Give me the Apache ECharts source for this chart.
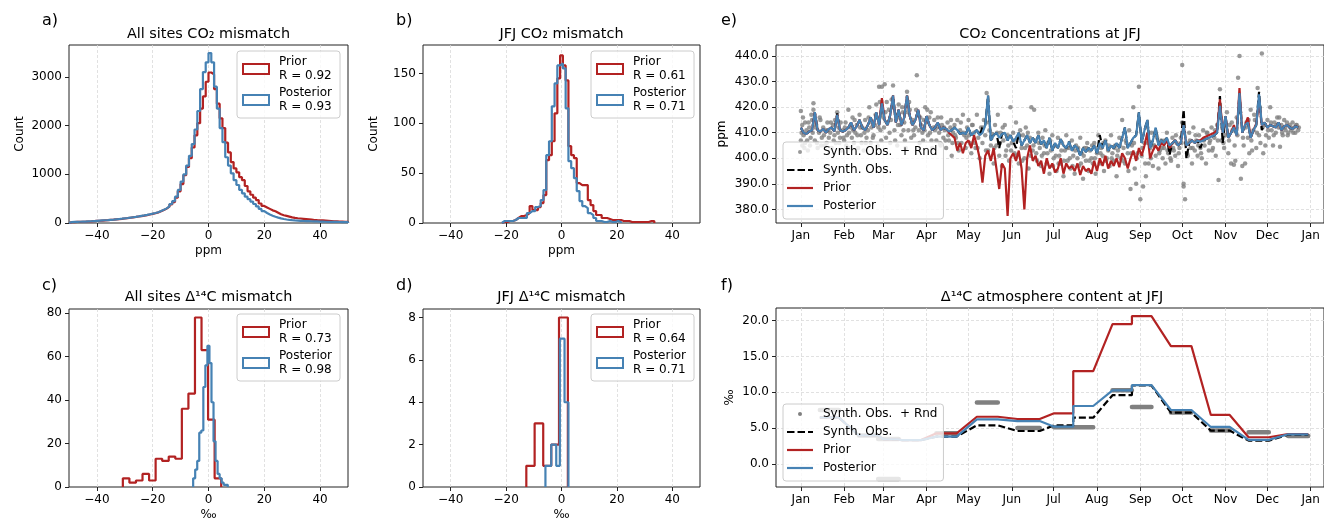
<!DOCTYPE html>
<html><head><meta charset="utf-8">
<script src="https://cdn.jsdelivr.net/npm/echarts@6/dist/echarts.min.js"></script>
<style>html,body{margin:0;padding:0;background:#fff}#c{width:1324px;height:521px}</style>
</head><body><div id="c"></div><script>
// ---------------- DATA ----------------
// Panel a: All sites CO2 mismatch, 1-ppm bins from -50 to 50
const aBinStart = -50, aBinWidth = 1;
const aPrior = [18,20,22,24,26,28,31,34,38,42, 46,50,54,58,63,68,74,80,86,93,
  100,108,116,124,133,142,152,163,175,188, 200,218,240,265,295,335,380,430,520,650,
  800,980,1150,1330,1550,1800,2050,2350,2600,2900, 3090,3050,2750,2450,2150,1950,1650,1450,1250,1120,
  1040,940,880,760,650,580,520,470,400,350, 320,290,260,240,210,180,160,145,130,115,
  105,98,92,86,80,74,68,62,58,55, 52,48,44,40,36,33,30,27,24,22];
const aPosterior = [20,22,24,26,28,30,33,36,40,44, 48,52,56,60,65,70,76,82,88,95,
  102,110,118,126,135,145,155,167,180,192, 205,222,245,270,300,340,390,450,540,680,
  850,1000,1180,1380,1620,1920,2300,2750,3100,3300, 3490,3300,2800,2350,1950,1660,1350,1180,1020,880,
  780,680,610,540,490,440,390,340,290,245, 205,175,150,128,110,95,82,72,64,58,
  53,49,45,42,40,38,36,34,32,30, 28,26,25,24,23,22,21,20,19,18];
// Panel b: JFJ CO2 mismatch, 1-ppm bins centred on integers from -21
const bBinStart = -21.5, bBinWidth = 1;
const bPrior = [1,1,2,2,3,5,7,7,8,10, 17,13,13,16,20,28,63,68,82,110,
  145,168,158,143,77,68,65,40,38,38, 38,23,18,12,8,8,5,5,4,3, 3,3,3,2,2,2,1,1,1,1, 1,1,1,2,2];
const bPosterior = [2,2,2,2,3,5,5,5,5,10, 12,12,16,17,23,33,68,82,117,140,
  158,160,155,115,62,55,45,32,22,17, 15,10,8,5,2,2,1,1,2,1, 1,2,1];
// Panel c: All sites D14C mismatch
const cPriorEdges = [-30.7,-28.35,-26.0,-23.65,-21.3,-18.95,-16.6,-14.25,-11.9,-9.55,-7.2,-4.85,-2.5,-0.15,2.2,4.55];
const cPrior = [4,2,3,6,3,13,12,14,13,36,43,78,63,31,4];
const cPostEdges = [-5.5,-4.77,-4.04,-3.31,-2.58,-1.85,-1.12,-0.39,0.34,1.07,1.8,2.53,3.26,3.99,4.72,5.45,6.18,6.91];
const cPosterior = [4,8,12,25,26,46,56,65,57,39,21,12,6,4,2,1,1];
// Panel d: JFJ D14C mismatch
const dPriorEdges = [-12.7,-9.7,-6.6,-3.7,-0.9,2.3];
const dPrior = [1,3,1,2,8];
const dPostEdges = [-5.8,-3.7,-1.9,-0.6,1.1,2.5];
const dPosterior = [1,2,1,7,4];
const histLabels = {
  aPrior:'Prior\nR = 0.92', aPost:'Posterior\nR = 0.93',
  bPrior:'Prior\nR = 0.61', bPost:'Posterior\nR = 0.71',
  cPrior:'Prior\nR = 0.73', cPost:'Posterior\nR = 0.98',
  dPrior:'Prior\nR = 0.64', dPost:'Posterior\nR = 0.71'
};
// Month ticks (day of year)
const monthNames = ['Jan','Feb','Mar','Apr','May','Jun','Jul','Aug','Sep','Oct','Nov','Dec','Jan'];
const monthStartDays = [0,31,59,90,120,151,181,212,243,273,304,334,365];
// Panel e: CO2 at JFJ, every 2nd day from Jan 1
const eDayStep = 2;
const ePosterior = [
 412,410,409.5,410.5,411,418,411,410.5,411.5,410,411.5,412,410.5,417,411,410.5,
 411,412,414,411,412.5,415,412,411,413,416,412,418,413,421.5,
 415,413,417,424.5,414,419,413,416,424.5,416.5,413,415,419,412,411,
 416.5,413,411,412,414,411,412,411.5,410.5,411,412,411,409.5,410,409.5,
 412,409,410,411,409,410,413,424.5,407,409,410,408,409.5,410,407,409,
 406.5,408,410,405,407,409,406,408,406,409,405.5,407,404,408,403,
 406,404,407.5,405,404,406.5,403,405,404,401,404,402.5,404,403,405,
 402,406,404,407,403,405,404,406,404,408,412,404,406,408,409,418,
 406,411,415,404,407,412,405,407,406,408,405,406,407,405,406,
 413,405,406,407,406,407,406.5,407,407.5,408,408.5,409,410,420.5,410,
 416.5,408,410,412,409,425.5,410,413,414,408,411,413,425,413,414,
 412,413,412.5,412,414,411,412.5,413,412,411.5,412.5,412];
const ePrior = [
 412,410,409.5,410.5,411,418,411,410.5,411.5,410,411.5,412,410.5,417,411,410.5,
 411,412,414,411,412.5,415,412,411,413,416,412,418,413,423.5,
 415,413,417,424.5,414,419,413,416,424.5,416.5,413,415,419,412,411,
 416.5,413,411,412,414,411,412,411.5,410,409,408,403,406,402,406,
 407,404,409,405,400,390.5,401,403,399,404,396,388,398,396,377.5,400,
 402,399,403,396,380,400,405,399,401,397,399,394,400,396,398,
 394.5,396,400,394,398,396,397,395,398,393.5,397,395,396,394,399,
 395,400,397,401,396,399,397,400,396.5,402,400,396,400,403,399,404,
 401,405,410,400,403,405,403,406,405,407,404,406,407,405,406,
 413,405,406,407,406,407,407,408,408.5,409,409.5,410,411,423,410,
 416.5,408,410,413,409,427.5,410,413,416,408,411,413.5,423,413,414,
 412,413,412.5,412,414,411,412.5,413,412,411.5,412.5,412];
const eSynthObs = [
 412,410,409.5,410.5,411,418,411,410.5,411.5,410,411.5,412,410.5,417.5,411,410.5,
 411,412,414,411,412.5,415,412,411,413,416,412,418,413,421.5,
 415,413,417,424.5,414,419,413,416,424.5,416.5,413,415,419,412,411,
 416.5,413,411,412,414,411,412,411.5,410.5,411,412,411,409.5,410,409.5,
 412,409,410,411,409,412,413,424.5,407,409,410,404,409.5,410,407,409,
 406.5,404,410,405,407,409,406,408,406,409,405.5,407,404,408,403,
 406,404,407.5,405,404,406.5,403,405,404,401,404,402.5,404,403,405,
 402,409,404,407,403,405,404,406,404,408,412,404,406,408,409,418,
 406,411,415,404,407,412,405,407,406,408,401.5,406,407,405,406,
 419,400,406,407,406,407,404,407,407.5,408,408.5,409,410,424.3,406,
 416.5,408,410,412,409,425.5,410,413,414,408,411,413,426,411,414,
 412,413,412.5,412,414,411,412.5,413,412,411.5,412.5,412];
const eSynthObsRnd = [
 [0,418.5],[0,407],[1,413],[1,405],[2,409],[3,414],[3,406],[4,411],[5,403],[6,412],[7,408],[8,415],[9,421.5],[9,419],[10,407],[11,413],[12,404],[13,410],[14,415],[15,408],[16,412],[17,405],[18,411],[19,414],[20,408],[21,410],[22,404],[23,413],[24,409],[25,406],[26,418],[27,412],[28,408],[29,403],[30,411],
 [31,407],[32,414],[33,409],[34,419],[35,404],[36,412],[37,416],[38,406],[39,410],[40,413],[41,404],[42,417],[43,409],[44,412],[45,403],[46,415],[47,408],[48,411],[49,420],[50,406],[51,414],[52,409],[53,413],[54,421],[55,405],[56,428],[57,411],[58,428],
 [59,416],[60,429],[61,408],[62,414],[63,419],[64,406],[65,423],[66,428.5],[67,411],[68,417],[69,405],[70,421],[71,413],[72,409],[73,418],[74,414],[75,404],[76,426],[77,411],[78,419],[79,408],[80,415],[81,409],[82,412],[83,432.5],[84,417],[85,406],[86,413],[87,410],[88,415],[89,420],
 [90,414],[91,409],[92,416],[93,418],[94,404],[95,412],[96,411],[97,407],[98,416],[99,410],[100,405],[101,413],[102,408],[103,411],[104,404],[105,414],[106,407],[107,412],[108,401],[109,410],[110,413],[111,408],[112,415],[113,403],[114,411],[115,406],[116,417],[117,409],[118,404],[119,412],
 [120,415],[121,406],[122,402],[123,413],[124,410],[125,404],[126,417],[127,408],[128,400],[129,412],[130,406],[131,415],[132,409],[133,425.5],[134,403],[135,411],[136,405],[137,409.5],[138,398],[139,413],[140,405],[141,417],[142,401],[143,410],[144,397],[145,407],[146,413],[147,403],[148,409],[149,399],[150,420],
 [151,406],[152,410],[153,402],[154,414],[155,408],[156,398],[157,411],[158,404],[159,409],[160,400],[161,412],[162,405],[163,396],[164,408],[165,420],[166,403],[167,419],[168,407],[169,399],[170,410],[171,404],[172,397],[173,408],[174,402],[175,411],[176,398],[177,406],[178,394],[179,403],[180,409],[181,400],
 [182,405],[183,395],[184,408],[185,401],[186,398],[187,406],[188,393],[189,403],[190,409],[191,399],[192,404],[193,396],[194,407],[195,401],[196,394],[197,405],[198,400],[199,397],[200,408],[201,402],[202,392],[203,404],[204,399],[205,406],[206,395],[207,403],[208,400],[209,398],[210,406],[211,394],[212,402],
 [213,409],[214,398],[215,404],[216,401],[217,395],[218,407],[219,400],[220,403],[221,397],[222,409],[223,402],[224,399],[225,405],[226,393],[227,403],[228,408],[229,400],[230,415],[231,404],[232,398],[233,406],[234,402],[235,411],[236,388],[237,405],[238,420],[239,396],[240,390],[241,402],[242,428],
 [243,384],[244,401],[245,389],[246,406],[247,393],[248,412],[249,398],[250,404],[251,410],[252,397],[253,405],[254,401],[255,408],[256,396],[257,403],[258,407],[259,400],[260,404],[261,398],[262,410],[263,402],[264,405],[265,399],[266,408],[267,403],[268,401],[269,406],[270,397],[271,404],[272,408],
 [273,436.5],[273,414],[274,390],[274,389],[275,384],[276,406],[277,401],[278,410],[279,404],[280,398],[281,412],[282,403],[283,407],[284,401],[285,409],[286,404],[287,400],[288,411],[289,405],[290,398],[291,410],[292,403],[293,407],[294,412],[295,404],[296,408],[297,401],[298,413],[299,391.5],[300,427],[301,407],[302,412],[303,404],
 [304,409],[305,418],[306,402],[307,413],[308,398],[309,411],[310,397.5],[311,399],[312,416],[313,431.5],[314,440],[315,392],[316,397],[317,405],[318,398],[319,414],[320,408],[321,402],[322,419],[323,403],[324,411],[325,415],[326,404],[327,427.5],[328,409],[329,406],[330,441],[331,402],[332,413],[333,409],
 [334,415],[335,408],[336,420],[337,411],[338,405],[339,414],[340,410],[341,416],[342,412],[343,404.5],[344,413],[345,409],[346,415],[347,411],[348,414],[349,410],[350,413],[351,411],[352,414],[353,412],[354,410],[355,413],[356,411]];
const eSynthObsRndHalfDays = [
 [0.5,410],[1.5,416],[2.5,404],[4.5,407],[5.5,414],[6.5,405],[7.5,417],[8.5,410],[10.5,412],[11.5,406],[13.5,416],[14.5,405],[16.5,409],[18.5,406],[19.5,411],[21.5,414],[23.5,407],[24.5,415],[26.5,410],[27.5,406],[28.5,414],[30.5,408],
 [31.5,412],[32.5,405],[34.5,410],[36.5,408],[37.5,411],[38.5,415],[40.5,409],[42.5,412],[43.5,406],[45.5,410],[46.5,406],[48.5,416],[50.5,412],[51.5,408],[53.5,417],[55.5,412],[56.5,422],[57.5,407],
 [59.5,412],[60.5,418],[61.5,422],[63.5,410],[64.5,415],[66.5,420],[67.5,407],[69.5,413],[70.5,416],[72.5,420],[73.5,411],[74.5,407],[76.5,418],[77.5,422],[79.5,414],[80.5,411],[82.5,419],[84.5,411],[85.5,416],[87.5,407],[88.5,411],
 [90.5,419],[92.5,410],[93.5,407],[95.5,415],[97.5,412],[99.5,406],[100.5,416],[102.5,412],[103.5,407],[105.5,409],[107.5,415],[108.5,406],[110.5,409],[112.5,406],[114.5,414],[116.5,410],[118.5,408],
 [120.5,409],[122.5,413],[124.5,406],[126.5,404],[128.5,410],[130.5,412],[132.5,403],[134.5,414],[136.5,408],[138.5,404],[140.5,410],[142.5,406],[144.5,412],[146.5,401],[148.5,405],[150.5,403],
 [152.5,407],[154.5,401],[156.5,409],[158.5,399],[160.5,404],[162.5,410],[164.5,401],[166.5,405],[168.5,402],[170.5,406],[172.5,401],[174.5,405],[176.5,402],[178.5,407],[180.5,397],
 [182.5,401],[184.5,398],[186.5,403],[188.5,399],[190.5,404],[192.5,400],[194.5,397],[196.5,403],[198.5,404],[200.5,398],[202.5,401],[204.5,404],[206.5,399],[208.5,405],[210.5,400],
 [212.5,404],[214.5,402],[216.5,406],[218.5,399],[220.5,405],[222.5,400],[224.5,404],[226.5,401],[228.5,405],[230.5,399],[232.5,407],[234.5,395],[236.5,402],[238.5,406],[240.5,400],
 [244.5,404],[246.5,398],[248.5,406],[250.5,400],[252.5,405],[254.5,409],[256.5,402],[258.5,404],[260.5,407],[262.5,403],[264.5,400],[266.5,404],[268.5,409],[270.5,402],
 [272.5,406],[276.5,402],[278.5,407],[280.5,404],[282.5,409],[284.5,405],[286.5,402],[288.5,407],[290.5,410],[292.5,406],[294.5,403],[296.5,411],[298.5,407],[300.5,416],[302.5,406],
 [304.5,413],[306.5,407],[308.5,414],[310.5,405],[312.5,409],[314.5,418],[316.5,408],[318.5,412],[320.5,415],[322.5,407],[324.5,417],[326.5,410],[328.5,420],[330.5,412],[332.5,405],
 [334.5,411],[336.5,414],[338.5,409],[340.5,413],[342.5,416],[344.5,410],[346.5,412],[348.5,409],[350.5,412],[352.5,410],[354.5,413],[356.5,412]];
// Panel f: D14C at JFJ (day of year, value)
const fDays = [13.6,27.2,41.5,55.3,59,70,72,86,97,111.5,126,141,155,171,181.3,195,195,209.3,223.1,237,237,251,264.9,279.6,293.5,307,320.5,335,348.8,363.2];
const fPosterior = [6.5,6.5,4.0,4.0,3.5,3.45,3.35,3.35,3.84,3.84,6.24,6.24,6.0,6.0,5.22,5.22,8.1,8.1,10.28,10.28,11.0,11.0,7.54,7.54,5.18,5.18,3.38,3.38,4.16,4.16];
const fPrior = [6.5,6.5,4.0,4.0,3.5,3.45,3.35,3.35,4.3,4.3,6.6,6.6,6.29,6.29,7.08,7.08,12.96,12.96,19.49,19.49,20.6,20.6,16.43,16.43,6.85,6.85,3.75,3.75,4.2,4.2];
const fSynthObs = [6.5,6.5,4.0,4.0,3.5,3.45,3.35,3.35,3.84,3.84,5.41,5.41,4.62,4.62,5.4,5.4,6.47,6.47,9.6,9.6,10.95,10.95,7.17,7.17,4.67,4.67,3.28,3.28,4.1,4.1];
const fRndStart = [13.6,41.5,55.3,55.3,97,126,155,181.3,195,223.1,237,264.9,293.5,320.5,348.8];
const fRndEnd   = [27.2,55.3,70,70,111.5,141,171,195,209.3,237,251,279.6,307,335,363.2];
const fRndValue = [7.54,4.0,3.5,-2.04,4.3,8.6,5.04,5.13,5.13,10.3,7.96,7.2,4.7,4.44,3.93];
const tsLabels = {eRnd:'Synth. Obs.  + Rnd', eObs:'Synth. Obs.', ePrior:'Prior', ePost:'Posterior',
                  fRnd:'Synth. Obs.  + Rnd', fObs:'Synth. Obs.', fPrior:'Prior', fPost:'Posterior'};

// ---------------- BUILD ----------------
const RED = '#b22222', BLUE = '#4682b4', GRAY = '#808080';
const FONT = 'DejaVu Sans';
const TXT = '#000';
const SPLIT = {show:true, lineStyle:{color:'#d9d9d9', type:[3,2], width:0.8}};
const ICON_LINE = 'path://M0,0h26v2.2h-26z';
const ICON_DASH = 'path://M0,0h7.5v2.2h-7.5zM10.5,0h7.5v2.2h-7.5zM21,0h5v2.2h-5z';
function uniformEdges(start, width, n){ const e=[]; for(let i=0;i<=n;i++) e.push(+(start+i*width).toFixed(4)); return e; }
function histLine(edges, counts){
  const pts=[[edges[0],0]];
  for(let i=0;i<counts.length;i++){ pts.push([edges[i],counts[i]]); pts.push([edges[i+1],counts[i]]); }
  pts.push([edges[counts.length],0]);
  return pts;
}
const minus = v => (v<0 ? '\u2212'+Math.abs(v) : String(v));
function xHist(gi, name){
  return {type:'value', gridIndex:gi, min:-50, max:50, name, nameLocation:'middle', nameGap:22,
    nameTextStyle:{fontFamily:FONT,fontSize:12,color:TXT},
    axisLine:{show:false,onZero:false},
    axisTick:{show:true,length:4,lineStyle:{color:'#222',width:1},customValues:[-40,-20,0,20,40]},
    axisLabel:{fontFamily:FONT,fontSize:12,color:TXT,margin:7,customValues:[-40,-20,0,20,40],formatter:minus},
    splitLine:SPLIT};
}
function yHist(gi, max, ticks, name){
  return {type:'value', gridIndex:gi, min:0, max, name, nameLocation:'middle', nameGap:43, nameRotate:90,
    nameTextStyle:{fontFamily:FONT,fontSize:12,color:TXT},
    axisLine:{show:false,onZero:false},
    axisTick:{show:true,length:4,lineStyle:{color:'#222',width:1},customValues:ticks},
    axisLabel:{fontFamily:FONT,fontSize:12,color:TXT,margin:7,customValues:ticks,formatter:v=>String(v)},
    splitLine:{show:false}};
}
function xTime(gi){
  return {type:'value', gridIndex:gi, min:-17.8, max:374.5,
    axisLine:{show:false,onZero:false},
    axisTick:{show:true,length:4,lineStyle:{color:'#222',width:1},customValues:monthStartDays},
    axisLabel:{fontFamily:FONT,fontSize:12,color:TXT,margin:7,customValues:monthStartDays,
      formatter:v=>monthNames[monthStartDays.indexOf(v)]},
    splitLine:SPLIT};
}
function yTime(gi, min, max, ticks, name, gap){
  return {type:'value', gridIndex:gi, min, max, name, nameLocation:'middle', nameGap:gap, nameRotate:90,
    nameTextStyle:{fontFamily:FONT,fontSize:12,color:TXT},
    axisLine:{show:false,onZero:false},
    axisTick:{show:true,length:4,lineStyle:{color:'#222',width:1},customValues:ticks},
    axisLabel:{fontFamily:FONT,fontSize:12,color:TXT,margin:7,customValues:ticks,formatter:v=>v.toFixed(1)},
    splitLine:SPLIT};
}
function histSeries(name, gi, edges, counts, color){
  return {type:'line', name, xAxisIndex:gi, yAxisIndex:gi, data:histLine(edges,counts),
    symbol:'none', showSymbol:false, lineStyle:{color,width:2.2}, itemStyle:{color}, silent:true};
}
function histLegend(left, top, pn, qn){
  return {orient:'vertical', left, top, itemWidth:26, itemHeight:10, itemGap:3,
    padding:[4,8,4,5], backgroundColor:'rgba(255,255,255,0.8)', borderColor:'#cccccc', borderWidth:1, borderRadius:3,
    textStyle:{fontFamily:FONT,fontSize:12,lineHeight:14,color:TXT,padding:[0,0,0,5]},
    selectedMode:false,
    data:[{name:pn, icon:'rect', itemStyle:{color:'rgba(0,0,0,0)', borderColor:RED, borderWidth:2}},
          {name:qn, icon:'rect', itemStyle:{color:'rgba(0,0,0,0)', borderColor:BLUE, borderWidth:2}}],
    formatter:n=>histLabels[n]};
}
function tsLegend(left, top, p){
  return {orient:'vertical', left, top, itemWidth:26, itemHeight:4, itemGap:4,
    padding:[3,6,6,4], backgroundColor:'rgba(255,255,255,0.8)', borderColor:'#cccccc', borderWidth:1, borderRadius:3,
    textStyle:{fontFamily:FONT,fontSize:12,lineHeight:14,color:TXT,padding:[0,0,0,5]},
    selectedMode:false,
    data:[{name:p+'Rnd', icon:'circle', itemStyle:{color:GRAY,borderWidth:0}},
          {name:p+'Obs', icon:ICON_DASH, itemStyle:{color:'#000',borderWidth:0}},
          {name:p+'Prior', icon:ICON_LINE, itemStyle:{color:RED,borderWidth:0}},
          {name:p+'Post', icon:ICON_LINE, itemStyle:{color:BLUE,borderWidth:0}}],
    formatter:n=>tsLabels[n]};
}
const eDays = ePosterior.map((_,i)=>i*eDayStep);
const pair = (xs, ys) => xs.map((x,i)=>[x, ys[i]]);
const rndBars = [];
fRndStart.forEach((s,i)=>{ rndBars.push([s,fRndValue[i]]); rndBars.push([fRndEnd[i],fRndValue[i]]); rndBars.push([fRndEnd[i],'-']); });

const aEdges = uniformEdges(aBinStart, aBinWidth, aPrior.length);
const bEdgesP = uniformEdges(bBinStart, bBinWidth, bPrior.length);
const bEdgesQ = uniformEdges(bBinStart, bBinWidth, bPosterior.length);

const gridBase = {show:true, borderColor:'#222', borderWidth:1, backgroundColor:'rgba(0,0,0,0)', containLabel:false, outerBoundsMode:'none'};
const option = {
  animation:false,
  backgroundColor:'#fff',
  textStyle:{fontFamily:FONT},
  grid:[
    Object.assign({left:69, top:45, width:279, height:178}, gridBase),
    Object.assign({left:423, top:45, width:277, height:178}, gridBase),
    Object.assign({left:69, top:309, width:279, height:178}, gridBase),
    Object.assign({left:423, top:309, width:277, height:178}, gridBase),
    Object.assign({left:776, top:45, width:548, height:178}, gridBase),
    Object.assign({left:776, top:308, width:548, height:179}, gridBase)
  ],
  xAxis:[xHist(0,'ppm'), xHist(1,'ppm'), xHist(2,'\u2030'), xHist(3,'\u2030'), xTime(4), xTime(5)],
  yAxis:[
    yHist(0, 3655, [0,1000,2000,3000], 'Count'),
    yHist(1, 178.5, [0,50,100,150], 'Count'),
    yHist(2, 81.9, [0,20,40,60,80], ''),
    yHist(3, 8.4, [0,2,4,6,8], ''),
    yTime(4, 374.7, 444.3, [380,390,400,410,420,430,440], 'ppm', 48),
    yTime(5, -3.17, 21.73, [0,5,10,15,20], '\u2030', 40)
  ],
  legend:[
    histLegend(237,51,'aPrior','aPost'),
    histLegend(591,51,'bPrior','bPost'),
    histLegend(237,314,'cPrior','cPost'),
    histLegend(591,314,'dPrior','dPost'),
    tsLegend(783,142,'e'),
    tsLegend(783,404,'f')
  ],
  series:[
    histSeries('aPrior',0,aEdges,aPrior,RED),
    histSeries('aPost',0,aEdges,aPosterior,BLUE),
    histSeries('bPrior',1,bEdgesP,bPrior,RED),
    histSeries('bPost',1,bEdgesQ,bPosterior,BLUE),
    histSeries('cPrior',2,cPriorEdges,cPrior,RED),
    histSeries('cPost',2,cPostEdges,cPosterior,BLUE),
    histSeries('dPrior',3,dPriorEdges,dPrior,RED),
    histSeries('dPost',3,dPostEdges,dPosterior,BLUE),
    {type:'scatter', name:'eRnd', xAxisIndex:4, yAxisIndex:4, data:eSynthObsRnd.concat(eSynthObsRndHalfDays), symbol:'circle', symbolSize:4.5, itemStyle:{color:GRAY}, silent:true},
    {type:'line', name:'eObs', xAxisIndex:4, yAxisIndex:4, data:pair(eDays,eSynthObs), symbol:'none', lineStyle:{color:'#000',width:2.2,type:[7,3]}, itemStyle:{color:'#000'}, silent:true},
    {type:'line', name:'ePrior', xAxisIndex:4, yAxisIndex:4, data:pair(eDays,ePrior), symbol:'none', lineStyle:{color:RED,width:2.2}, itemStyle:{color:RED}, silent:true},
    {type:'line', name:'ePost', xAxisIndex:4, yAxisIndex:4, data:pair(eDays,ePosterior), symbol:'none', lineStyle:{color:BLUE,width:2.2}, itemStyle:{color:BLUE}, silent:true},
    {type:'line', name:'fRnd', xAxisIndex:5, yAxisIndex:5, data:rndBars, symbol:'none', connectNulls:false, lineStyle:{color:GRAY,width:4.5,cap:'round'}, itemStyle:{color:GRAY}, silent:true},
    {type:'line', name:'fObs', xAxisIndex:5, yAxisIndex:5, data:pair(fDays,fSynthObs), symbol:'none', lineStyle:{color:'#000',width:2.2,type:[7,3]}, itemStyle:{color:'#000'}, silent:true},
    {type:'line', name:'fPrior', xAxisIndex:5, yAxisIndex:5, data:pair(fDays,fPrior), symbol:'none', lineStyle:{color:RED,width:2.2}, itemStyle:{color:RED}, silent:true},
    {type:'line', name:'fPost', xAxisIndex:5, yAxisIndex:5, data:pair(fDays,fPosterior), symbol:'none', lineStyle:{color:BLUE,width:2.2}, itemStyle:{color:BLUE}, silent:true}
  ],
  graphic:[
    {type:'text', x:42, y:21, style:{text:'a)', fontFamily:FONT, fontSize:16, fill:TXT, verticalAlign:'middle'}},
    {type:'text', x:396, y:21, style:{text:'b)', fontFamily:FONT, fontSize:16, fill:TXT, verticalAlign:'middle'}},
    {type:'text', x:721, y:21, style:{text:'e)', fontFamily:FONT, fontSize:16, fill:TXT, verticalAlign:'middle'}},
    {type:'text', x:42, y:286, style:{text:'c)', fontFamily:FONT, fontSize:16, fill:TXT, verticalAlign:'middle'}},
    {type:'text', x:396, y:286, style:{text:'d)', fontFamily:FONT, fontSize:16, fill:TXT, verticalAlign:'middle'}},
    {type:'text', x:721, y:286, style:{text:'f)', fontFamily:FONT, fontSize:16, fill:TXT, verticalAlign:'middle'}},
    {type:'text', x:208.5, y:34, style:{text:'All sites CO\u2082 mismatch', fontFamily:FONT, fontSize:14.4, fill:TXT, align:'center', verticalAlign:'middle'}},
    {type:'text', x:561.5, y:34, style:{text:'JFJ CO\u2082 mismatch', fontFamily:FONT, fontSize:14.4, fill:TXT, align:'center', verticalAlign:'middle'}},
    {type:'text', x:1050, y:34, style:{text:'CO\u2082 Concentrations at JFJ', fontFamily:FONT, fontSize:14.4, fill:TXT, align:'center', verticalAlign:'middle'}},
    {type:'text', x:208.5, y:297, style:{text:'All sites \u0394\u00b9\u2074C mismatch', fontFamily:FONT, fontSize:14.4, fill:TXT, align:'center', verticalAlign:'middle'}},
    {type:'text', x:561.5, y:297, style:{text:'JFJ \u0394\u00b9\u2074C mismatch', fontFamily:FONT, fontSize:14.4, fill:TXT, align:'center', verticalAlign:'middle'}},
    {type:'text', x:1052, y:297, style:{text:'\u0394\u00b9\u2074C atmosphere content at JFJ', fontFamily:FONT, fontSize:14.4, fill:TXT, align:'center', verticalAlign:'middle'}}
  ]
};
const chart = echarts.init(document.getElementById('c'), null, {renderer:'canvas', width:1324, height:521});
chart.setOption(option);
</script></body></html>
